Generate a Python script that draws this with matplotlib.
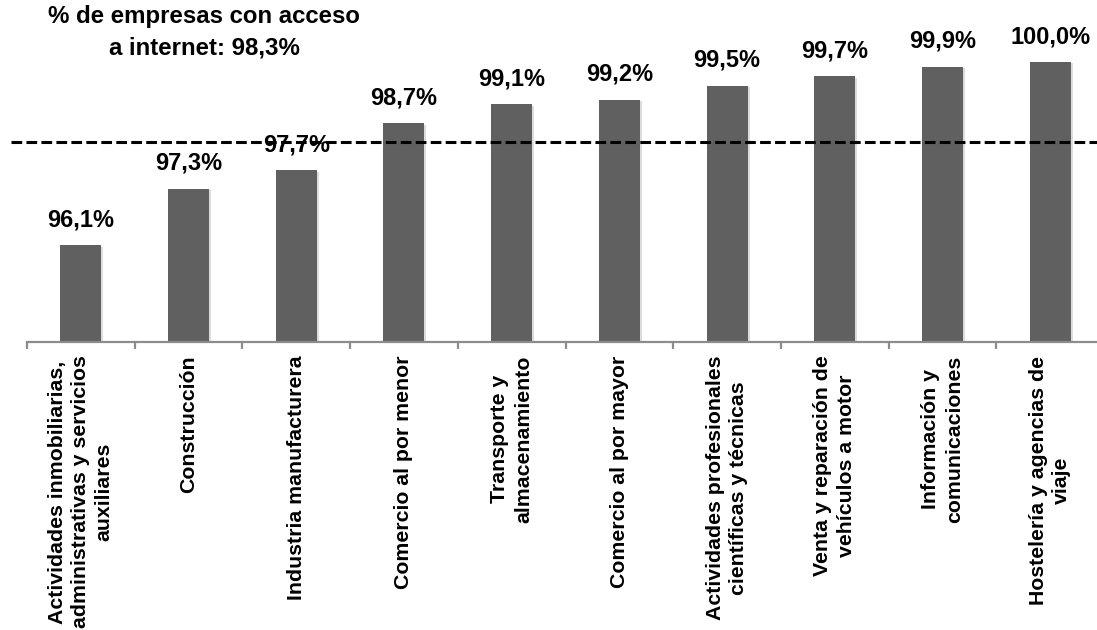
import matplotlib.pyplot as plt
import matplotlib.patheffects as pe
import numpy as np

plt.rcParams['font.family'] = ['Liberation Sans', 'DejaVu Sans']
plt.rcParams['font.weight'] = 'bold'

sectores = [
    'Actividades inmobiliarias,\nadministrativas y servicios\nauxiliares',
    'Construcción',
    'Industria manufacturera',
    'Comercio al por menor',
    'Transporte y\nalmacenamiento',
    'Comercio al por mayor',
    'Actividades profesionales\ncientíficas y técnicas',
    'Venta y reparación de\nvehículos a motor',
    'Información y\ncomunicaciones',
    'Hostelería y agencias de\nviaje',
]
valores = [96.1, 97.3, 97.7, 98.7, 99.1, 99.2, 99.5, 99.7, 99.9, 100.0]
media = 98.3  # % total de empresas con acceso a internet

fig = plt.figure(figsize=(10.97, 6.30), dpi=100)
# the plot runs a little past the right edge, like the original crop
ax = fig.add_axes([27 / 1097, (630 - 341.7) / 630, 1077 / 1097, 305.5 / 630])

x = np.arange(len(valores))
bars = ax.bar(x, valores, width=0.38, bottom=0, color='#606060', zorder=2)
for b in bars:
    b.set_path_effects([pe.SimplePatchShadow(offset=(1.5, -1), shadow_rgbFace='#bbbbbb', alpha=0.5),
                        pe.Normal()])

for xi, v in zip(x, valores):
    ax.annotate(f'{v:.1f}%'.replace('.', ','), (xi, v), xytext=(0, 13.7),
                textcoords='offset points', ha='center', va='baseline',
                fontsize=17, fontweight='bold')

ax.hlines(media, -0.65, 9.6, colors='black', linestyles=(0, (3.5, 1.4)),
          linewidth=2.2, clip_on=False, zorder=3)

ax.set_xlim(-0.5, 9.5)
ax.set_ylim(94.05, 100.55)

for s in ['top', 'right', 'left']:
    ax.spines[s].set_visible(False)
ax.spines['bottom'].set_color('#8c8c8c')
ax.spines['bottom'].set_linewidth(1.6)
ax.set_yticks([])

ax.set_xticks(x)
ax.set_xticklabels(sectores, rotation=90, ha='center', va='top', fontsize=15.3,
                   fontweight='bold', linespacing=1.3, multialignment='center')
ax.tick_params(axis='x', which='major', length=0, pad=10)
ax.set_xticks(np.arange(-0.5, 10, 1), minor=True)
ax.tick_params(axis='x', which='minor', length=5, width=1.6, color='#8c8c8c')

fig.text(204 / 1097, 1 - 5 / 630, '% de empresas con acceso\na internet: 98,3%',
         ha='center', va='top', fontsize=17.3, fontweight='bold', linespacing=1.45)

fig.savefig('out.png', dpi=100)
